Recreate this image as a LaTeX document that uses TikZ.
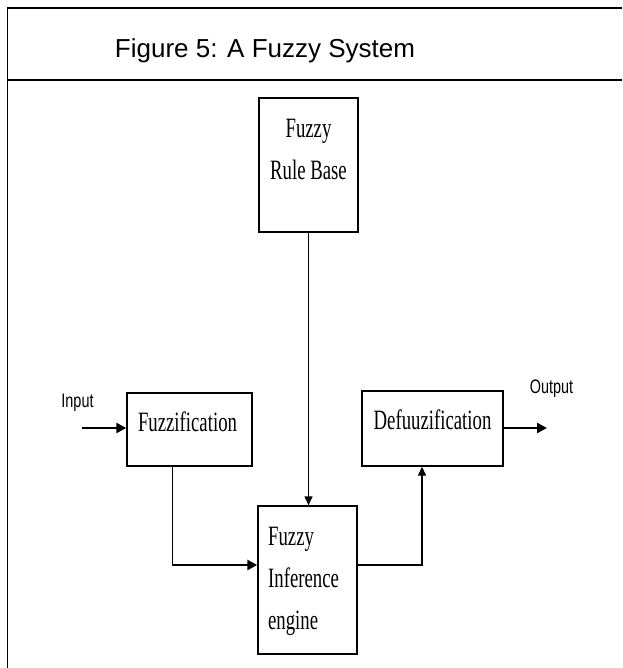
\documentclass[tikz,border=0pt]{standalone}
\usepackage{fontspec}
\setmainfont{Liberation Serif}
\newfontfamily\headfont{Liberation Sans}
\usetikzlibrary{calc,positioning,arrows.meta}

\tikzset{
  blk/.style={draw, line width=1.4pt, inner sep=0pt},
  btxt/.style={font=\fontsize{28}{42}\selectfont, xscale=0.67, inner sep=0pt},
  lbl/.style={font=\headfont\fontsize{19.5}{22}\selectfont, xscale=0.74, inner sep=0pt, anchor=base},
  conn/.style={line width=1.4pt, -{Triangle[length=9pt,width=8pt]}},
  fat/.style={line width=2.4pt, -{Triangle[length=10pt,width=10pt]}}
}

\begin{document}
\begin{tikzpicture}[x=1pt,y=-1pt]
\useasboundingbox (0,0) rectangle (622,668);
% frame and heading
\draw[line width=1.5pt] (7.5,668) -- (7.5,8) -- (622,8);
\draw[line width=2pt] (7.5,80.5) -- (622,80.5);
\node[font=\headfont\fontsize{26}{30}\selectfont, anchor=base, inner sep=0pt] (title) at (265,58) {Figure 5: A Fuzzy System};

% blocks
\node[blk, minimum width=99pt, minimum height=134pt] (rule) at (308.5,165) {};
\node[blk, minimum width=125pt, minimum height=73pt] (fuzz) at (189.5,429.5) {};
\node[blk, minimum width=99pt, minimum height=148pt] (infer) at (307.5,580) {};
\node[blk, minimum width=141pt, minimum height=75pt] (defuzz) at (432.5,428.5) {};

\node[btxt, align=center] (ruletxt) at (308.5,149) {Fuzzy\\Rule Base};
\node[btxt] (fuzztxt) at (187.5,422) {Fuzzification};
\node[btxt, align=left, anchor=west] (infertxt) at (268,581) {Fuzzy\\Inference\\engine};
\node[btxt] (defuzztxt) at (432.5,420) {Defuuzification};

% in / out
\node[lbl] (inlbl) at (77.5,407) {Input};
\node[lbl] (outlbl) at (551.5,393) {Output};
\coordinate (in) at (82,428);
\coordinate (out) at (547,428);
\coordinate (c1) at (172,565);
\coordinate (c2) at (422,565);

% connectors
\draw[fat] (in) -- (in -| fuzz.west);
\draw[fat] (defuzz.east |- out) -- (out);
\draw[conn] (rule.south) -- (rule.south |- infer.north);
\draw[line width=1pt] (c1 |- fuzz.south) -- (c1);
\draw[fat] (c1) -- (c1 -| infer.west);
\draw[conn] (c2 -| infer.east) -- (c2) -- (c2 |- defuzz.south);
\end{tikzpicture}
\end{document}
